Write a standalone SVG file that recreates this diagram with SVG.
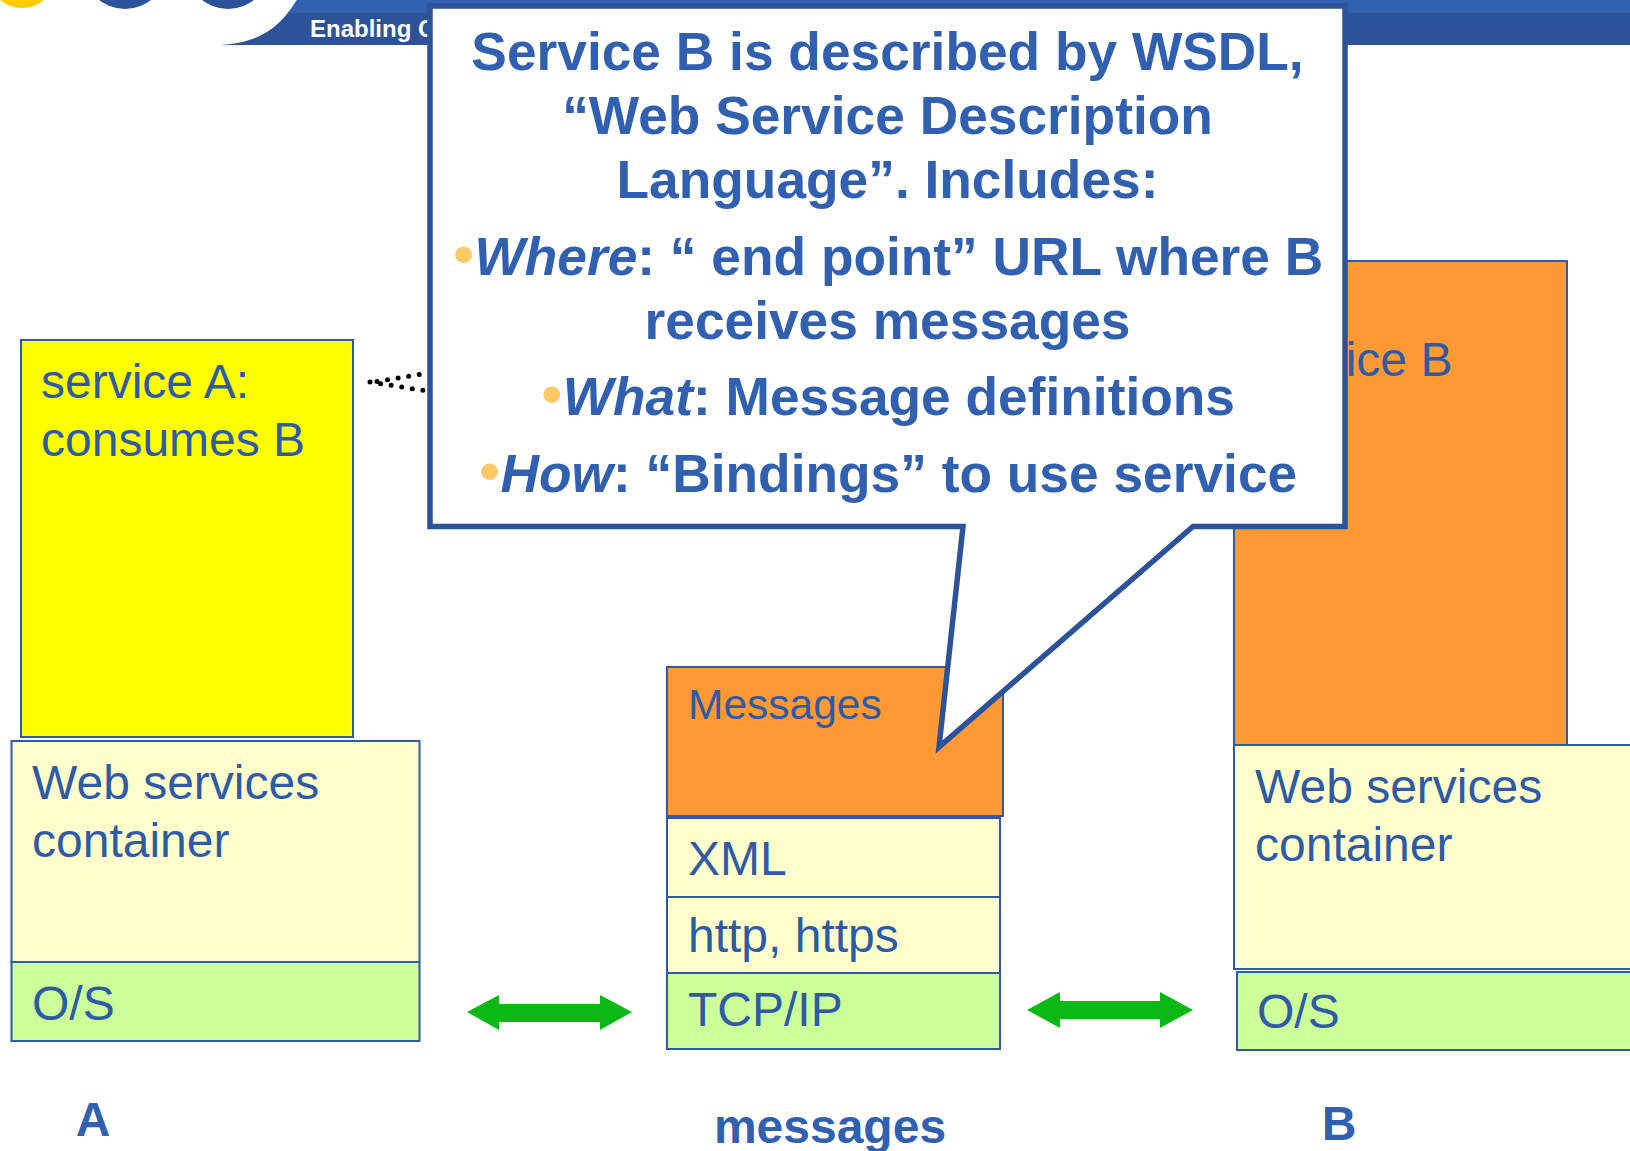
<svg xmlns="http://www.w3.org/2000/svg" width="1630" height="1151" viewBox="0 0 1630 1151">
<style>
text{font-family:"Liberation Sans",Arial,sans-serif;fill:#2f5aa6}
.box{stroke:#2f5aa6;stroke-width:2}
.y{fill:#ffffcc}.g{fill:#ccff99}.o{fill:#ff9933}
.t{font-size:48px}
.m{font-size:42.500px}
.c{font-size:53.300px;font-weight:bold;fill:#3160b0;text-anchor:middle}
.l{font-size:48px;font-weight:bold;fill:#3160b0;text-anchor:middle}
.b{fill:#ffc966;font-weight:normal;font-size:62px}
.arrow{fill:#0cb914}
</style>
<rect width="1630" height="1151" fill="#fff"/>
<g id="header">
<circle cx="22" cy="-26" r="34" fill="#ffcc00"/>
<circle cx="125" cy="-33" r="42" fill="#2c5299"/>
<circle cx="228" cy="-33" r="42" fill="#2c5299"/>
<path d="M297 0H1630V45H221C262 43 282 24 297 0Z" fill="#2c5299"/>
<path d="M297 0H1630V13H288Z" fill="#3160b0"/>
<text x="310" y="37" font-size="24" font-weight="bold" style="fill:#fff">Enabling G</text>
</g>
<g id="connectors">
<path d="M377 381.500L429 373M370 382L424 390.500" fill="none" stroke="#000" stroke-width="5" stroke-linecap="round" stroke-dasharray="0 10.700"/>
<path class="arrow" d="M467 1012L499 995V1004H600V995L632 1012L600 1030V1022H499V1030Z"/>
<path class="arrow" d="M1027 1010L1060 992V1001H1160V992L1193 1010L1160 1028V1019H1060V1028Z"/>
</g>
<g id="service-a"><rect class="box" x="21" y="340" width="332" height="397" fill="#ffff00"/>
<text class="t" x="41" y="398">service A:</text><text class="t" x="41" y="456">consumes B</text></g>
<g id="container-a"><rect class="box y" x="11.500" y="741" width="408" height="221"/>
<text class="t" x="32" y="799">Web services</text><text class="t" x="32" y="857">container</text></g>
<g id="os-a"><rect class="box g" x="11.500" y="962" width="408" height="79"/>
<text class="t" x="32" y="1020">O/S</text></g>
<g id="service-b"><rect class="box o" x="1234" y="261" width="333" height="484"/>
<text class="t" x="1255" y="376">service B</text></g>
<g id="container-b"><rect class="box y" x="1234" y="745" width="420" height="224"/>
<text class="t" x="1255" y="803">Web services</text><text class="t" x="1255" y="861">container</text></g>
<g id="os-b"><rect class="box g" x="1237" y="972" width="420" height="78"/>
<text class="t" x="1257" y="1028">O/S</text></g>
<g id="messages"><rect class="box o" x="667" y="667" width="336" height="149"/>
<text class="m" x="688" y="719">Messages</text></g>
<g id="xml"><rect class="box y" x="667" y="818" width="333" height="79"/>
<text class="t" x="688" y="875">XML</text></g>
<g id="http"><rect class="box y" x="667" y="897" width="333" height="76"/>
<text class="t" x="688" y="952">http, https</text></g>
<g id="tcp"><rect class="box g" x="667" y="973" width="333" height="76"/>
<text class="t" x="688" y="1026">TCP/IP</text></g>
<g id="label-a"><text class="l" x="93" y="1136">A</text></g>
<g id="label-messages"><text class="l" x="830" y="1143">messages</text></g>
<g id="label-b"><text class="l" x="1339" y="1140">B</text></g>
<g id="callout">
<path d="M430 6H1345V526.500H1193L939 747L963 526.500H430Z" fill="#fff" stroke="#2c5299" stroke-width="5.500"/>
<text class="c" x="887.500" y="70">Service B is described by WSDL,</text>
<text class="c" x="887.500" y="134">“Web Service Description</text>
<text class="c" x="887.500" y="198">Language”. Includes:</text>
<text class="c" x="888" y="275"><tspan class="b">•</tspan><tspan font-style="italic">Where</tspan>: “ end point” URL where B</text>
<text class="c" x="887.500" y="339">receives messages</text>
<text class="c" x="888" y="415"><tspan class="b">•</tspan><tspan font-style="italic">What</tspan>: Message definitions</text>
<text class="c" x="888" y="492"><tspan class="b">•</tspan><tspan font-style="italic">How</tspan>: “Bindings” to use service</text>
</g>
</svg>
